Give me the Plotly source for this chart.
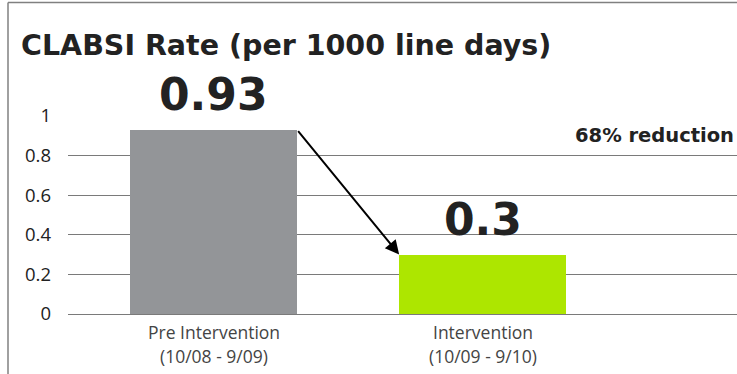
import plotly.graph_objects as go

# Chart data
cat_line1 = ["Pre Intervention", "Intervention"]
cat_line2 = ["(10/08 - 9/09)", "(10/09 - 9/10)"]
rates = [0.93, 0.3]
rate_labels = ["0.93", "0.3"]
bar_colors = ["#939598", "#ADE600"]
y_ticks = [0, 0.2, 0.4, 0.6, 0.8, 1]
y_tick_labels = ["0", "0.2", "0.4", "0.6", "0.8", "1"]
reduction_text = "68% reduction"

W, H = 737, 374
L, R, T, B = 68, 0, 115, 60
plot_w = W - L - R
plot_h = H - T - B

xpos = list(range(len(rates)))
bar_w = 0.62
BOLD = "DejaVu Sans"
REG = "Open Sans"

fig = go.Figure()
fig.add_trace(go.Bar(
    x=xpos, y=rates, width=bar_w,
    marker=dict(color=bar_colors, line=dict(width=0)),
    showlegend=False, hoverinfo="skip",
))

# Big value labels above bars
for xi, v, t in zip(xpos, rates, rate_labels):
    fig.add_annotation(
        x=xi, y=v, text=f"<b>{t}</b>", showarrow=False,
        yanchor="bottom", yshift=8,
        font=dict(family=BOLD, size=44, color="#222222"),
    )

# Two-line category labels under the axis
for xi, a, b in zip(xpos, cat_line1, cat_line2):
    fig.add_annotation(
        x=xi, y=0, yref="y", text=a, showarrow=False,
        yanchor="middle", yshift=-18,
        font=dict(family=REG, size=17.5, color="#444444"),
    )
    fig.add_annotation(
        x=xi, y=0, yref="y", text=b, showarrow=False,
        yanchor="middle", yshift=-42,
        font=dict(family=REG, size=17.5, color="#444444"),
    )

# Arrow from first bar's top-right corner to second bar's top-left corner
fig.add_annotation(
    x=xpos[1] - bar_w / 2, y=rates[1],
    ax=xpos[0] + bar_w / 2, ay=rates[0],
    xref="x", yref="y", axref="x", ayref="y",
    text="", showarrow=True, arrowhead=2, arrowsize=1.4,
    arrowwidth=2, arrowcolor="#000000", standoff=0,
)

# Reduction note
fig.add_annotation(
    xref="paper", yref="y", x=(573 - L) / plot_w, y=0.9,
    text=f"<b>{reduction_text}</b>", showarrow=False,
    xanchor="left", yanchor="middle",
    font=dict(family=BOLD, size=19.5, color="#222222"),
)

# Outer frame: left and top edges
frame_x0 = (8 - L) / plot_w
frame_y1 = (H - B - 2.5) / plot_h
frame_line = dict(color="#808080", width=1.5)
fig.add_shape(type="line", xref="paper", yref="paper",
              x0=frame_x0, x1=frame_x0, y0=-0.35, y1=frame_y1,
              line=frame_line, layer="below")
fig.add_shape(type="line", xref="paper", yref="paper",
              x0=frame_x0, x1=1.0, y0=frame_y1, y1=frame_y1,
              line=frame_line, layer="below")

fig.update_layout(
    width=W, height=H,
    margin=dict(l=L, r=R, t=T, b=B, pad=0),
    paper_bgcolor="white", plot_bgcolor="white",
    bargap=0,
    title=dict(
        text="<b>CLABSI Rate (per 1000 line days)</b>",
        xref="container", yref="container",
        x=21 / W, xanchor="left", y=1 - 45 / H, yanchor="middle",
        font=dict(family=BOLD, size=28.5, color="#222222"),
    ),
    xaxis=dict(
        range=[-0.541, 1.946], showgrid=False, zeroline=False,
        showline=False, ticks="", showticklabels=False,
    ),
    yaxis=dict(
        range=[0, 1.004], tickmode="array", tickvals=y_ticks, ticktext=y_tick_labels,
        showgrid=True, gridcolor="#7a7a7a", gridwidth=1,
        zeroline=True, zerolinecolor="#7a7a7a", zerolinewidth=1,
        showline=False, ticks="", ticklabelstandoff=16,
        tickfont=dict(family=REG, size=18.5, color="#222222"),
    ),
)

fig.write_html("out.html", config={"displayModeBar": False})
